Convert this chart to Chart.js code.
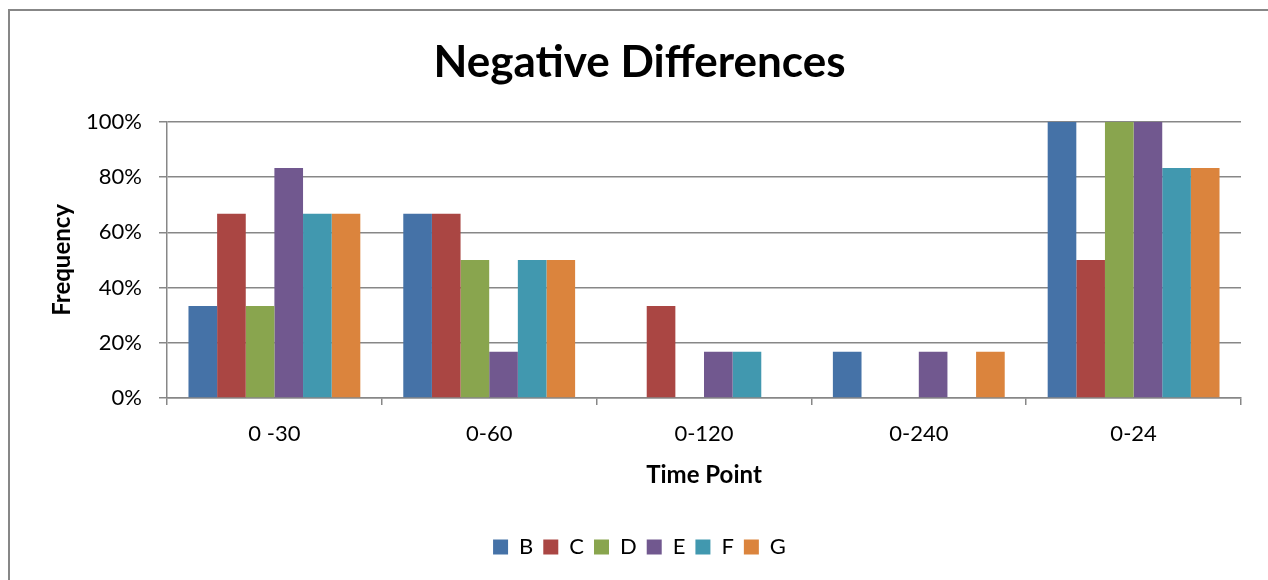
<!DOCTYPE html>
<html>
<head>
<meta charset="utf-8">
<script src="https://cdn.jsdelivr.net/npm/chart.js@4"></script>
<style>
    html, body { margin: 0; padding: 0; background: #ffffff; }
    #wrap { position: relative; width: 1268px; height: 580px; overflow: hidden; }
    #frame { position: absolute; left: 8px; top: 9px; width: 1300px; height: 620px;
             border-left: 2px solid #878787; border-top: 2px solid #878787; }
    #chart { position: absolute; left: 0; top: 0; }
</style>
</head>
<body>
<div id="wrap">
    <div id="frame"></div>
    <canvas id="chart" width="1268" height="580"></canvas>
</div>
<script>
// Time points on the x axis
const categories = ['0 -30', '0-60', '0-120', '0-240', '0-24'];
const seriesNames = ['B', 'C', 'D', 'E', 'F', 'G'];

// Frequencies in percent, one array per series
const valuesB = [33.3, 66.7, 0, 16.7, 100];
const valuesC = [66.7, 66.7, 33.3, 0, 50];
const valuesD = [33.3, 50, 0, 0, 100];
const valuesE = [83.3, 16.7, 16.7, 16.7, 100];
const valuesF = [66.7, 50, 16.7, 0, 83.3];
const valuesG = [66.7, 50, 0, 16.7, 83.3];

const yTicks = [0, 20, 40, 60, 80, 100];

const seriesValues = [valuesB, valuesC, valuesD, valuesE, valuesF, valuesG];
const seriesColors = ['#4572A7', '#AA4643', '#89A54E', '#71588F', '#4198AF', '#DB843D'];

const fontFamily = 'Lato, "Liberation Sans", sans-serif';
const gridColor = '#878787';

Chart.defaults.font.family = fontFamily;
Chart.defaults.color = '#000000';

const ctx = document.getElementById('chart');
new Chart(ctx, {
    type: 'bar',
    data: {
        labels: categories,
        datasets: seriesNames.map(function(name, i) {
            return {
                label: name,
                data: seriesValues[i],
                backgroundColor: seriesColors[i],
                borderWidth: 0,
                categoryPercentage: 0.8,
                barPercentage: 1.0
            };
        })
    },
    options: {
        responsive: false,
        animation: false,
        layout: {
            padding: { left: 38, right: 27, top: 0, bottom: 12 }
        },
        plugins: {
            title: {
                display: true,
                text: 'Negative Differences',
                color: '#000000',
                font: { size: 44, weight: 'bold', lineHeight: 1.2 },
                padding: { top: 36, bottom: 33 }
            },
            legend: {
                display: true,
                position: 'bottom',
                labels: {
                    boxWidth: 15,
                    boxHeight: 15,
                    padding: 10,
                    color: '#000000',
                    font: { size: 22 }
                }
            },
            tooltip: { enabled: false }
        },
        scales: {
            x: {
                grid: {
                    display: true,
                    drawOnChartArea: false,
                    drawTicks: true,
                    tickLength: 7,
                    color: gridColor,
                    lineWidth: 1.5,
                    offset: true
                },
                border: { display: true, color: gridColor, width: 1.5 },
                ticks: {
                    font: { size: 22 },
                    color: '#000000',
                    padding: 16,
                    maxRotation: 0
                },
                title: {
                    display: true,
                    text: 'Time Point',
                    color: '#000000',
                    font: { size: 24, weight: 'bold', lineHeight: 1.2 },
                    padding: { top: 0, bottom: 36 }
                },
                afterFit: function(scale) {
                    scale.height = 128;
                }
            },
            y: {
                min: 0,
                max: 100,
                afterBuildTicks: function(scale) {
                    scale.ticks = yTicks.map(function(v) { return { value: v }; });
                },
                grid: {
                    color: gridColor,
                    lineWidth: 1.5,
                    tickLength: 8
                },
                border: { display: true, color: gridColor, width: 1.5 },
                ticks: {
                    font: { size: 22 },
                    color: '#000000',
                    padding: 17,
                    callback: function(value) { return value + '%'; }
                },
                title: {
                    display: true,
                    text: 'Frequency',
                    color: '#000000',
                    font: { size: 24, weight: 'bold', lineHeight: 1.2 },
                    padding: { top: 10, bottom: 0 }
                },
                afterFit: function(scale) {
                    scale.width = 167 - 38;
                }
            }
        }
    }
});
</script>
</body>
</html>
